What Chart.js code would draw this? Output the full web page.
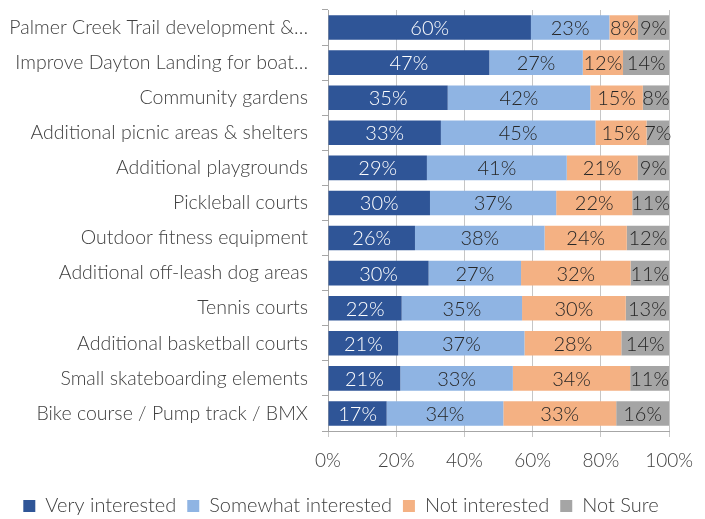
<!DOCTYPE html>
<html lang="en">
  <head>
    <meta charset="UTF-8" />
    <title>Park amenity interest</title>
    <script src="https://cdn.jsdelivr.net/npm/chart.js"></script>
    <style>
      html, body {
        margin: 0;
        padding: 0;
        background: #ffffff;
      }
      #wrap {
        width: 705px;
        height: 519px;
      }
    </style>
  </head>
  <body>
    <div id="wrap"><canvas id="interestChart"></canvas></div>
    <script>
      const categories = [
        "Palmer Creek Trail development &…",
        "Improve Dayton Landing for boat…",
        "Community gardens",
        "Additional picnic areas & shelters",
        "Additional playgrounds",
        "Pickleball courts",
        "Outdoor fitness equipment",
        "Additional off-leash dog areas",
        "Tennis courts",
        "Additional basketball courts",
        "Small skateboarding elements",
        "Bike course / Pump track / BMX",
      ];
      const veryInterested = [59.5, 47.3, 35.1, 33.1, 29.0, 29.9, 25.5, 29.5, 21.6, 20.6, 21.2, 17.2];
      const somewhatInterested = [23.0, 27.4, 41.8, 45.3, 41.0, 37.0, 38.0, 27.1, 35.3, 37.0, 33.0, 34.2];
      const notInterested = [8.4, 11.8, 15.4, 15.0, 20.8, 22.3, 24.1, 32.1, 30.4, 28.4, 34.4, 33.1];
      const notSure = [9.1, 13.6, 7.7, 6.6, 9.2, 10.8, 12.4, 11.3, 12.7, 14.0, 11.4, 15.5];
      const xTicks = [0, 20, 40, 60, 80, 100];

      const FONT = "Lato";
      const TEXT = "#404040";

      // draws the % value in the middle of each bar segment
      const segmentLabels = {
        id: "segmentLabels",
        afterDatasetsDraw(chart) {
          const ctx = chart.ctx;
          ctx.save();
          ctx.font = "300 20px " + FONT;
          ctx.textAlign = "center";
          ctx.textBaseline = "middle";
          chart.data.datasets.forEach((ds, i) => {
            const meta = chart.getDatasetMeta(i);
            if (meta.hidden) return;
            meta.data.forEach((bar, j) => {
              const v = ds.data[j];
              ctx.fillStyle = ds.labelColor;
              ctx.fillText(Math.round(v) + "%", (bar.x + bar.base) / 2, bar.y + 1);
            });
          });
          ctx.restore();
        },
      };

      new Chart(document.getElementById("interestChart"), {
        type: "bar",
        data: {
          labels: categories,
          datasets: [
            { label: "Very interested", data: veryInterested, backgroundColor: "#2F5597", labelColor: "#ffffff" },
            { label: "Somewhat interested", data: somewhatInterested, backgroundColor: "#8FB4E3", labelColor: "#262626" },
            { label: "Not interested", data: notInterested, backgroundColor: "#F4B183", labelColor: "#262626" },
            { label: "Not Sure", data: notSure, backgroundColor: "#A5A5A5", labelColor: "#262626" },
          ],
        },
        options: {
          indexAxis: "y",
          responsive: true,
          maintainAspectRatio: false,
          animation: false,
          datasets: {
            bar: {
              categoryPercentage: 1,
              barPercentage: 0.7,
            },
          },
          layout: {
            padding: { left: 10, right: 33, top: 10, bottom: -7 },
          },
          plugins: {
            legend: {
              position: "bottom",
              labels: {
                boxWidth: 12,
                boxHeight: 12,
                padding: 11,
                color: TEXT,
                font: { family: FONT, size: 20, weight: 300 },
              },
            },
            tooltip: { enabled: false },
          },
          scales: {
            x: {
              stacked: true,
              min: 0,
              max: 100,
              afterBuildTicks(axis) {
                axis.ticks = xTicks.map((v) => ({ value: v }));
              },
              afterFit(axis) {
                axis.height = 54;
              },
              ticks: {
                color: TEXT,
                padding: 12,
                font: { family: FONT, size: 19, weight: 300 },
                callback: (v) => v + "%",
              },
              grid: {
                color: "#c6c6c6",
                tickLength: 6,
              },
              border: { color: "#a6a6a6" },
            },
            y: {
              stacked: true,
              afterFit(axis) {
                axis.width = 318;
                axis.paddingTop = 0;
                axis.paddingBottom = 0;
              },
              ticks: {
                color: TEXT,
                padding: 14,
                font: { family: FONT, size: 19.5, weight: 300 },
              },
              grid: {
                offset: true,
                drawOnChartArea: false,
                tickLength: 6,
                color: "#a6a6a6",
              },
              border: { color: "#a6a6a6" },
            },
          },
        },
        plugins: [segmentLabels],
      });
    </script>
  </body>
</html>
